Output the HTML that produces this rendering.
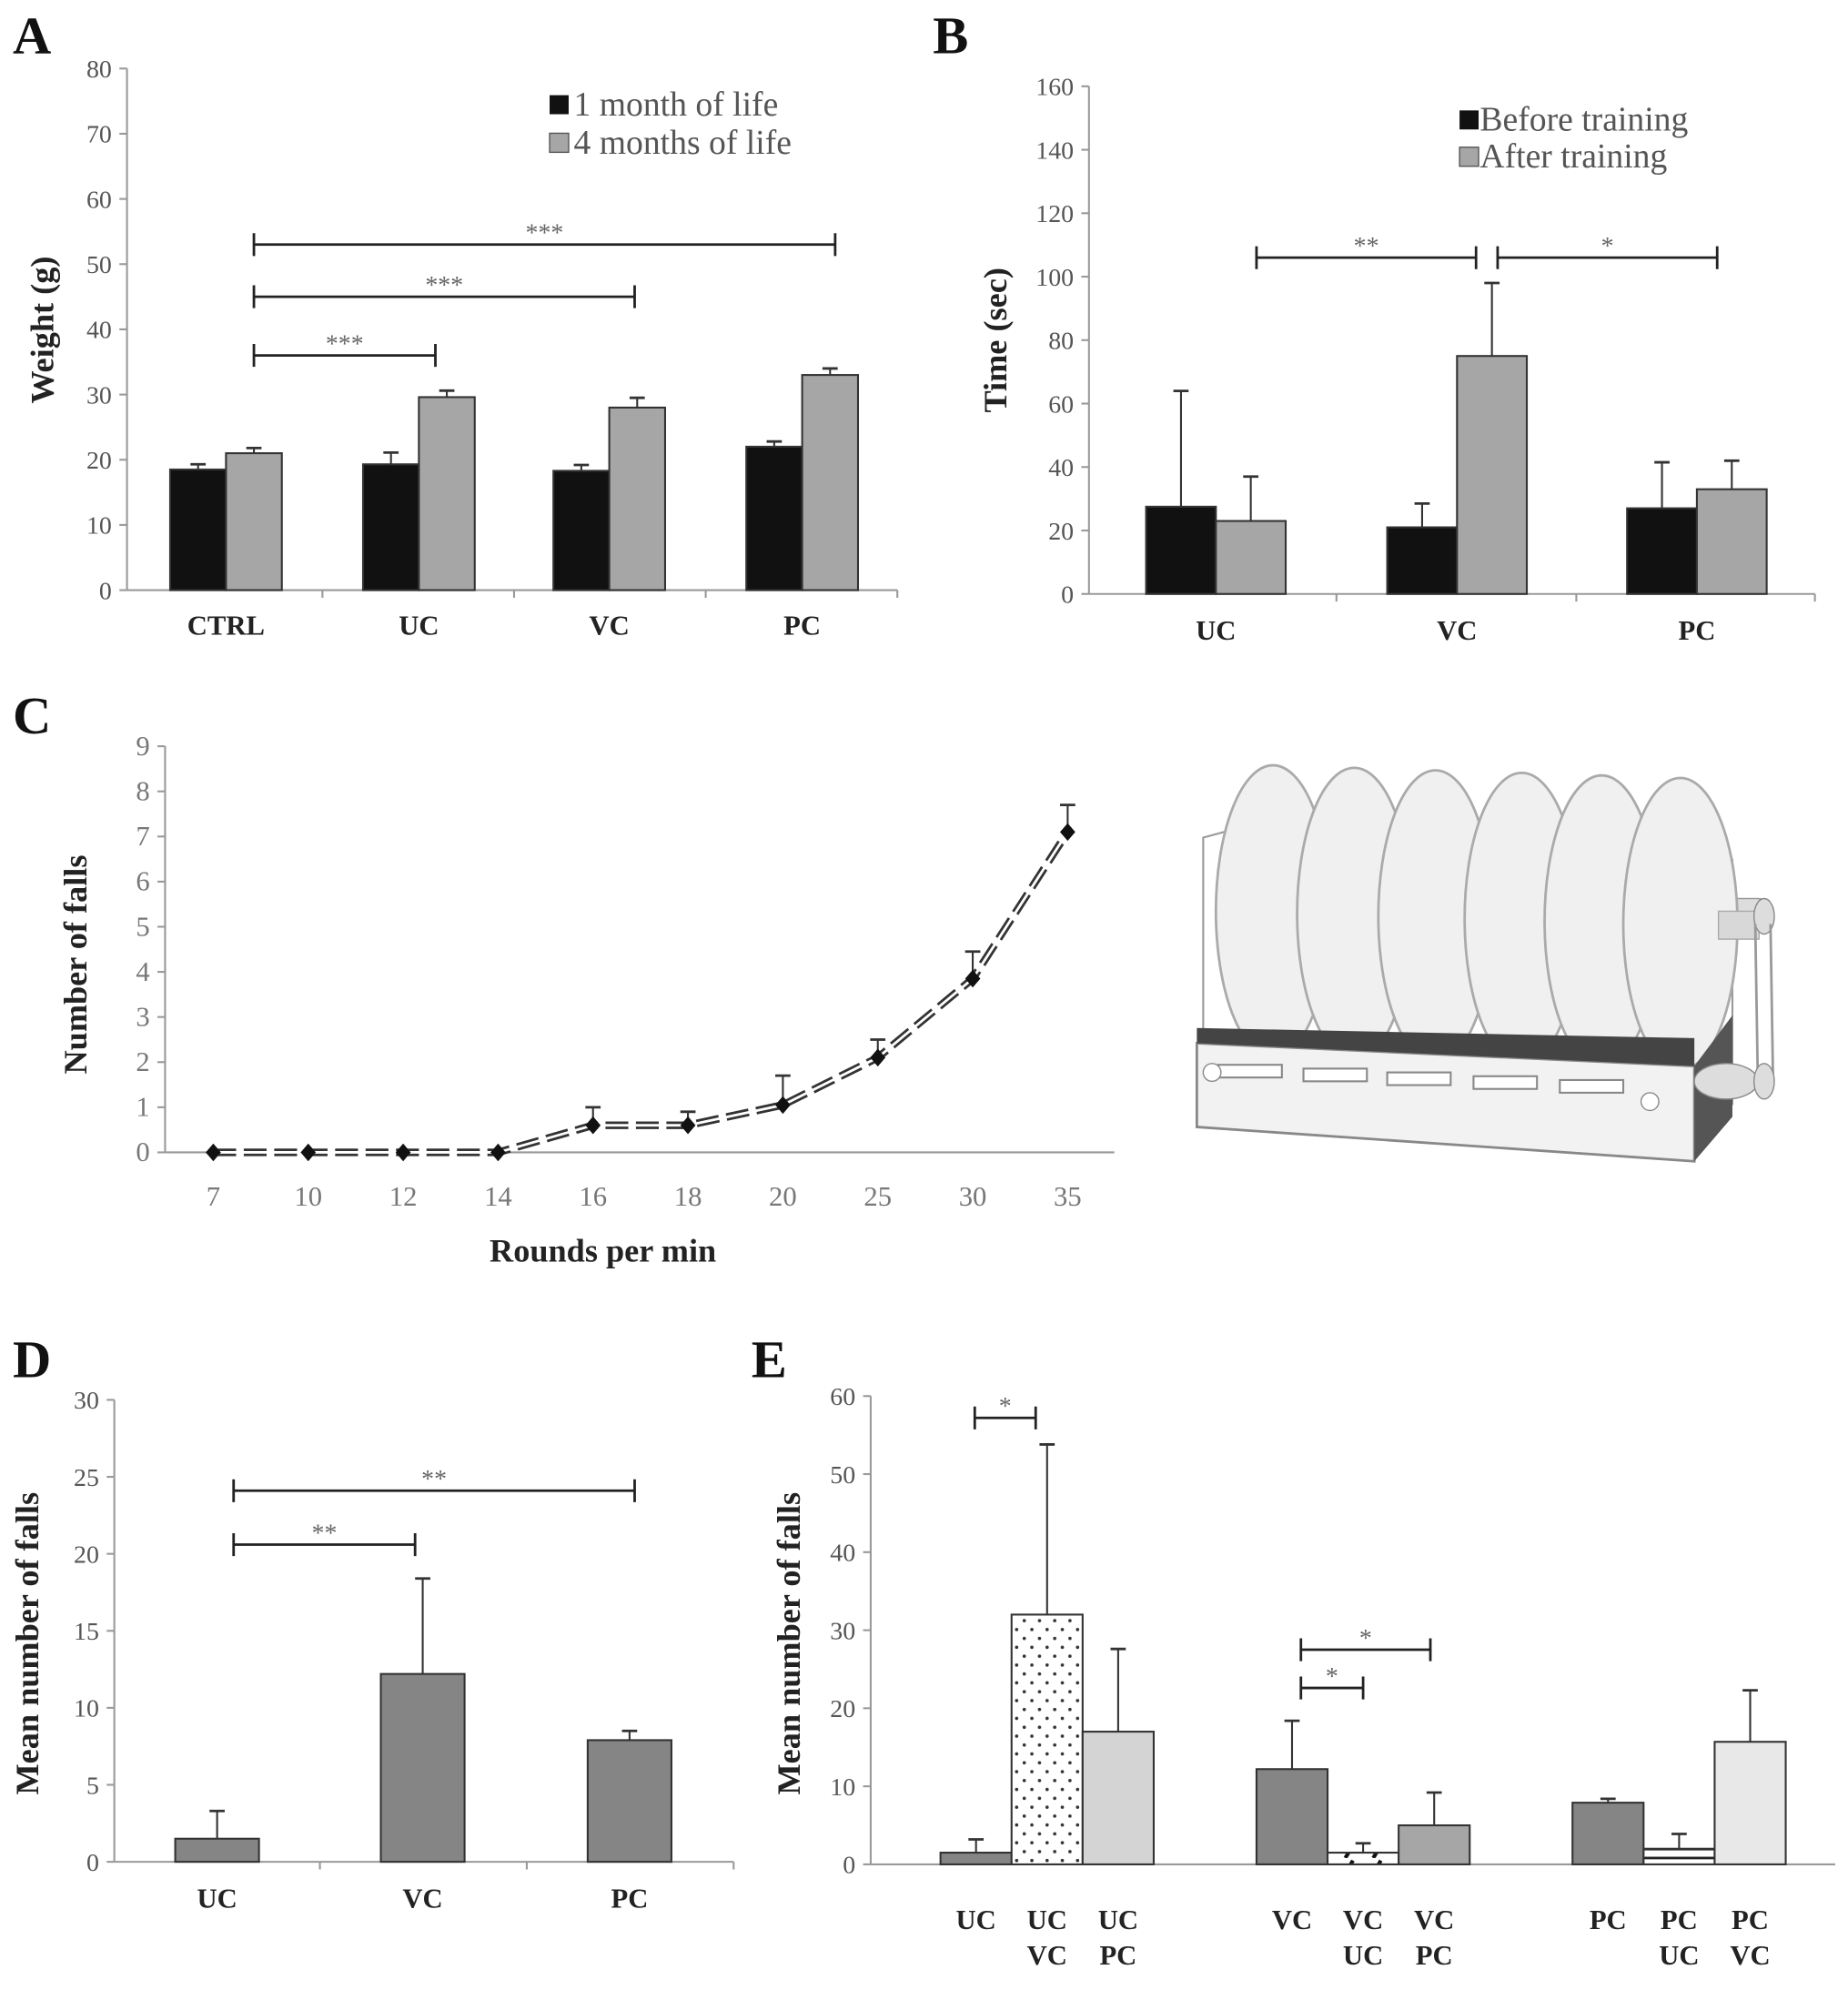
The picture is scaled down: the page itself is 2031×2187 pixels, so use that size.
<!DOCTYPE html>
<html><head><meta charset="utf-8"><style>
html,body{margin:0;padding:0;background:#fff}
svg{display:block}
text{font-family:"Liberation Serif",serif}
</style></head><body>
<svg id="fig" width="2031" height="2187" viewBox="0 0 1456 1568" xmlns="http://www.w3.org/2000/svg">
<defs>
<pattern id="dots" width="12" height="14" patternUnits="userSpaceOnUse"><rect width="12" height="14" fill="#fff"/><circle cx="3" cy="3" r="1.3" fill="#333"/><circle cx="9" cy="10" r="1.3" fill="#333"/></pattern>
<pattern id="hatch" width="22" height="12" patternUnits="userSpaceOnUse"><rect width="22" height="12" fill="#fff"/><path d="M4 12 L10 2" stroke="#111" stroke-width="3"/></pattern>
<pattern id="stripes" width="10" height="7" patternUnits="userSpaceOnUse"><rect width="10" height="7" fill="#fff"/><rect y="0" width="10" height="2" fill="#222"/></pattern>
</defs>
<g id="root"></g>
</svg>
<script>
// ---------- Panel A data ----------
const aCats=["CTRL","UC","VC","PC"];
const aMonth1=[18.5,19.3,18.3,22];
const aMonth1Err=[0.8,1.8,0.9,0.8];
const aMonth4=[21,29.6,28,33];
const aMonth4Err=[0.8,1,1.5,1];
const aTicks=[0,10,20,30,40,50,60,70,80];
// ---------- Panel B data ----------
const bCats=["UC","VC","PC"];
const bBefore=[27.5,21,27];
const bBeforeErr=[36.5,7.5,14.5];
const bAfter=[23,75,33];
const bAfterErr=[14,23,9];
const bTicks=[0,20,40,60,80,100,120,140,160];
// ---------- Panel C data ----------
const cCats=["7","10","12","14","16","18","20","25","30","35"];
const cVals=[0,0,0,0,0.6,0.6,1.05,2.1,3.85,7.1];
const cErr=[0,0,0,0,0.4,0.3,0.65,0.4,0.6,0.6];
const cTicks=[0,1,2,3,4,5,6,7,8,9];
// ---------- Panel D data ----------
const dCats=["UC","VC","PC"];
const dVals=[1.5,12.2,7.9];
const dErr=[1.8,6.2,0.6];
const dTicks=[0,5,10,15,20,25,30];
// ---------- Panel E data ----------
const eLabels1=["UC","UC","UC","VC","VC","VC","PC","PC","PC"];
const eLabels2=["","VC","PC","","UC","PC","","UC","VC"];
const eVals=[1.5,32,17,12.2,1.5,5,7.9,2,15.7];
const eErr=[1.7,21.8,10.6,6.2,1.2,4.2,0.5,1.9,6.6];
const eTicks=[0,10,20,30,40,50,60];

const NS="http://www.w3.org/2000/svg";
const root=document.getElementById('root');
function el(tag,attrs,parent,txt){const e=document.createElementNS(NS,tag);for(const k in attrs)e.setAttribute(k,attrs[k]);if(txt!==undefined)e.textContent=txt;(parent||root).appendChild(e);return e;}
function lin(d0,d1,r0,r1){return v=>r0+(v-d0)*(r1-r0)/(d1-d0);}
function errBar(g,x,yTop,yErr,cap){
  const l=el('line',{x1:x,x2:x,y1:yTop,y2:yErr,stroke:'#333','stroke-width':1.5},g);
  
  const c=el('line',{x1:x-cap,x2:x+cap,y1:yErr,y2:yErr,stroke:'#333','stroke-width':2},g);
  
}
function bracket(g,x1,x2,y,label){
  const p=el('path',{d:`M${x1} ${y-9}V${y+9}M${x1} ${y}H${x2}M${x2} ${y-9}V${y+9}`,stroke:'#222','stroke-width':2,fill:'none'},g);
  
  const t=el('text',{x:(x1+x2)/2,y:y-3,'text-anchor':'middle','font-size':20,fill:'#666'},g,label);
  
}
function yAxis(g,x,x2,yScale,ticks,y0,fsz,col){
  const a=el('line',{x1:x,x2:x,y1:yScale(ticks[ticks.length-1]),y2:y0,stroke:'#999','stroke-width':1.5},g);
  
  const b=el('line',{x1:x,x2:x2,y1:y0,y2:y0,stroke:'#999','stroke-width':1.5},g);
  
  ticks.forEach(v=>{
    const tk=el('line',{x1:x-6,x2:x,y1:yScale(v),y2:yScale(v),stroke:'#999','stroke-width':1.5},g);
    
    const t=el('text',{x:x-12,y:yScale(v)+7,'text-anchor':'end','font-size':fsz,fill:col},g,String(v));
    
  });
}
function panelLetter(x,y,s){const t=el('text',{x:x,y:y,'font-size':42,'font-weight':'bold',fill:'#111'},root,s);}
function yTitle(g,x,y,s,fs){const t=el('text',{x:0,y:0,transform:`translate(${x},${y}) rotate(-90)`,'text-anchor':'middle','font-size':fs,'font-weight':'bold',fill:'#222'},g,s);}
function bar(g,x,w,yv,y0,fill,name){const r=el('rect',{x:x,y:yv,width:w,height:y0-yv,fill:fill,stroke:'#333','stroke-width':1.5},g);}

// ---------- Panel A ----------
(function(){
  const g=el('g',{});
  panelLetter(10,42,'A');
  const y=lin(0,80,465,54), y0=465;
  const cx=[178,330,480,632], w=44;
  yAxis(g,100,707,y,aTicks,y0,20,'#555');
  [254,405,556,707].forEach(x=>{const t=el('line',{x1:x,x2:x,y1:y0,y2:y0+6,stroke:'#999','stroke-width':1.5},g);});
  aCats.forEach((c,i)=>{
    bar(g,cx[i]-w,w,y(aMonth1[i]),y0,'#111','bar-1-month-'+c.toLowerCase());
    errBar(g,cx[i]-w/2,y(aMonth1[i]),y(aMonth1[i]+aMonth1Err[i]),6);
    bar(g,cx[i],w,y(aMonth4[i]),y0,'#a6a6a6','bar-4-months-'+c.toLowerCase());
    errBar(g,cx[i]+w/2,y(aMonth4[i]),y(aMonth4[i]+aMonth4Err[i]),6);
    const t=el('text',{x:cx[i],y:500,'text-anchor':'middle','font-size':22,'font-weight':'bold',fill:'#222'},g,c);
  });
  bracket(g,200,343,y(36),'***');bracket(g,200,500,y(45),'***');bracket(g,200,658,y(53),'***');
  yTitle(g,42,260,'Weight (g)',26);
  const l1=el('rect',{x:433,y:75,width:15,height:15,fill:'#111'},g);
  const t1=el('text',{x:452,y:91,'font-size':27,fill:'#555'},g,'1 month of life');
  const l2=el('rect',{x:433,y:105,width:15,height:15,fill:'#a6a6a6',stroke:'#555'},g);
  const t2=el('text',{x:452,y:121,'font-size':27,fill:'#555'},g,'4 months of life');
})();

// ---------- Panel B ----------
(function(){
  const g=el('g',{});
  panelLetter(735,42,'B');
  const y=lin(0,160,468,68), y0=468;
  const cx=[958,1148,1337], w=55;
  yAxis(g,858,1430,y,bTicks,y0,20,'#555');
  [1053,1242,1430].forEach(x=>{const t=el('line',{x1:x,x2:x,y1:y0,y2:y0+6,stroke:'#999','stroke-width':1.5},g);});
  bCats.forEach((c,i)=>{
    bar(g,cx[i]-w,w,y(bBefore[i]),y0,'#111','bar-before-'+c.toLowerCase());
    errBar(g,cx[i]-w/2,y(bBefore[i]),y(bBefore[i]+bBeforeErr[i]),6);
    bar(g,cx[i],w,y(bAfter[i]),y0,'#a6a6a6','bar-after-'+c.toLowerCase());
    errBar(g,cx[i]+w/2,y(bAfter[i]),y(bAfter[i]+bAfterErr[i]),6);
    const t=el('text',{x:cx[i],y:504,'text-anchor':'middle','font-size':22,'font-weight':'bold',fill:'#222'},g,c);
  });
  bracket(g,990,1163,y(106),'**');bracket(g,1180,1353,y(106),'*');
  yTitle(g,793,268,'Time (sec)',26);
  const l1=el('rect',{x:1150,y:87,width:15,height:15,fill:'#111'},g);
  const t1=el('text',{x:1166,y:103,'font-size':27,fill:'#555'},g,'Before training');
  const l2=el('rect',{x:1150,y:116,width:15,height:15,fill:'#a6a6a6',stroke:'#555'},g);
  const t2=el('text',{x:1166,y:132,'font-size':27,fill:'#555'},g,'After training');
})();

// ---------- Panel C ----------
(function(){
  const g=el('g',{});
  panelLetter(10,578,'C');
  const y=lin(0,9,908,588), y0=908;
  const x=i=>168+i*74.8;
  yAxis(g,130,878,y,cTicks,y0,22,'#777');
  cVals.forEach((v,i)=>{if(cErr[i]>0)errBar(g,x(i),y(v),y(v+cErr[i]),6);});
  const pts=cVals.map((v,i)=>x(i)+','+y(v)).join(' ');
  const pl1=el('polyline',{points:pts,fill:'none',stroke:'#333','stroke-width':6,'stroke-dasharray':'18 6'},g);
  const pl2=el('polyline',{points:pts,fill:'none',stroke:'#fff','stroke-width':2},g);
  cVals.forEach((v,i)=>{
    const d=el('path',{d:`M${x(i)} ${y(v)-7}L${x(i)+6} ${y(v)}L${x(i)} ${y(v)+7}L${x(i)-6} ${y(v)}Z`,fill:'#111'},g);
    const t=el('text',{x:x(i),y:950,'text-anchor':'middle','font-size':22,fill:'#777'},g,cCats[i]);
  });
  const xt=el('text',{x:475,y:994,'text-anchor':'middle','font-size':26,'font-weight':'bold',fill:'#222'},g,'Rounds per min');
  yTitle(g,68,760,'Number of falls',26);
})();

// ---------- Rotarod illustration ----------
(function(){
  const g=el('g',{});
  el('path',{d:'M948 660 L985 650 L985 815 L948 825 Z',fill:'#fff',stroke:'#999','stroke-width':1.5},g);
  el('path',{d:'M1335 700 L1365 678 L1365 870 L1335 900 Z',fill:'#fff',stroke:'#999','stroke-width':1.5},g);
  const disks=[1003,1067,1131,1199,1262,1324];
  el('rect',{x:1000,y:708,width:395,height:22,rx:10,fill:'#ddd',stroke:'#999'},g);
  disks.forEach((dx,i)=>{
    el('path',{d:`M${dx-25} 822 L${dx-10} 770 L${dx+30} 770 L${dx+22} 822 Z`,fill:'#fff',stroke:'#aaa'},g);
    el('path',{d:`M${dx-18} 815 L${dx+20} 785 L${dx+20} 815 Z`,fill:'#ccc'},g);
    const e=el('ellipse',{cx:dx,cy:718+i*2,rx:45,ry:115,fill:'#f0f0f0',stroke:'#aaa','stroke-width':2},g);
    
    el('rect',{x:dx+30,y:708+i*2,width:32,height:22,fill:'#d8d8d8',stroke:'#aaa'},g);
  });
  el('ellipse',{cx:1390,cy:722,rx:8,ry:14,fill:'#ddd',stroke:'#888'},g);
  el('path',{d:'M1383 728 L1385 850 M1395 728 L1397 850',stroke:'#999','stroke-width':2},g);
  el('path',{d:'M943 822 L1335 840 L1335 915 L943 888 Z',fill:'#f2f2f2',stroke:'#888','stroke-width':2},g);
  el('path',{d:'M943 810 L1335 818 L1335 840 L943 822 Z',fill:'#444'},g);
  el('path',{d:'M1335 840 L1365 800 L1365 880 L1335 915 Z',fill:'#555'},g);
  el('ellipse',{cx:1360,cy:852,rx:25,ry:14,fill:'#ddd',stroke:'#888'},g);
  el('ellipse',{cx:1390,cy:852,rx:8,ry:14,fill:'#ddd',stroke:'#888'},g);
  [985,1052,1118,1186,1254].forEach((rx,i)=>{el('rect',{x:rx-25,y:839+i*3,width:50,height:10,fill:'#fff',stroke:'#888','stroke-width':1.5},g);});
  el('circle',{cx:955,cy:845,r:7,fill:'#fff',stroke:'#888'},g);
  el('circle',{cx:1300,cy:868,r:7,fill:'#fff',stroke:'#888'},g);
})();

// ---------- Panel D ----------
(function(){
  const g=el('g',{});
  panelLetter(10,1085,'D');
  const y=lin(0,30,1467,1103), y0=1467;
  const cx=[171,333,496], w=66;
  yAxis(g,90,578,y,dTicks,y0,20,'#555');
  [252,415,578].forEach(x=>{const t=el('line',{x1:x,x2:x,y1:y0,y2:y0+6,stroke:'#999','stroke-width':1.5},g);});
  dCats.forEach((c,i)=>{
    bar(g,cx[i]-w/2,w,y(dVals[i]),y0,'#858585','bar-'+c.toLowerCase());
    errBar(g,cx[i],y(dVals[i]),y(dVals[i]+dErr[i]),6);
    const t=el('text',{x:cx[i],y:1503,'text-anchor':'middle','font-size':22,'font-weight':'bold',fill:'#222'},g,c);
  });
  bracket(g,184,327,y(20.6),'**');bracket(g,184,500,y(24.1),'**');
  yTitle(g,30,1295,'Mean number of falls',26);
})();

// ---------- Panel E ----------
(function(){
  const g=el('g',{});
  panelLetter(592,1085,'E');
  const y=lin(0,60,1469,1100), y0=1469;
  const lefts=[741,797,853,990,1046,1102,1239,1295,1351], w=56;
  const fills=['#858585','url(#dots)','#d4d4d4','#858585','url(#hatch)','#a6a6a6','#858585','url(#stripes)','#e8e8e8'];
  yAxis(g,686,1446,y,eTicks,y0,20,'#555');
  eVals.forEach((v,i)=>{
    const cx=lefts[i]+w/2;
    bar(g,lefts[i],w,y(v),y0,fills[i],'bar-'+eLabels1[i].toLowerCase()+(eLabels2[i]?'-'+eLabels2[i].toLowerCase():''));
    errBar(g,cx,y(v),y(v+eErr[i]),6);
    const t=el('text',{x:cx,y:1520,'text-anchor':'middle','font-size':22,'font-weight':'bold',fill:'#222'},g,eLabels1[i]);
    if(eLabels2[i]){const t2=el('text',{x:cx,y:1548,'text-anchor':'middle','font-size':22,'font-weight':'bold',fill:'#222'},g,eLabels2[i]);}
  });
  bracket(g,768,816,y(57.2),'*');bracket(g,1025,1074,y(22.6),'*');bracket(g,1025,1127,y(27.5),'*');
  yTitle(g,630,1295,'Mean number of falls',26);
})();
</script>
</body></html>
